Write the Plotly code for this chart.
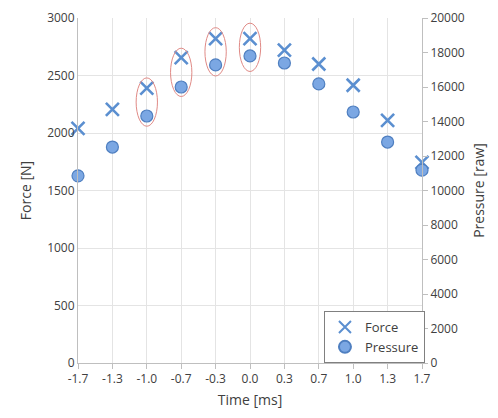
import plotly.graph_objects as go

time_labels = ["-1.7", "-1.3", "-1.0", "-0.7", "-0.3", "0.0", "0.3", "0.7", "1.0", "1.3", "1.7"]
force = [2040, 2205, 2390, 2655, 2820, 2820, 2720, 2600, 2415, 2110, 1745]
pressure = [10850, 12520, 14320, 16000, 17280, 17800, 17390, 16180, 14550, 12810, 11180]
highlighted = ["-1.0", "-0.7", "-0.3", "0.0"]

FONT = "Open Sans, Liberation Sans, sans-serif"
TXT = "#404040"
GRID = "#e4e4e4"
AX = "#bfbfbf"

fig = go.Figure()
fig.add_trace(go.Scatter(
    x=time_labels, y=force, mode="markers", name="Force", cliponaxis=False,
    marker=dict(symbol="x-thin", size=13, line=dict(width=2.6, color="#5b8fd0"), color="#5b8fd0"),
))
fig.add_trace(go.Scatter(
    x=time_labels, y=pressure, mode="markers", name="Pressure", yaxis="y2", cliponaxis=False,
    marker=dict(symbol="circle", size=12, color="#7ba7e3", line=dict(width=1.2, color="#4f7fc0")),
))

ratio = 3000 / 20000
half_h = 210
for lab in highlighted:
    i = time_labels.index(lab)
    mid = (force[i] + pressure[i] * ratio) / 2
    fig.add_shape(type="circle", xref="x", yref="y", x0=i - 0.31, x1=i + 0.31,
                  y0=mid - half_h, y1=mid + half_h,
                  line=dict(color="#e08a86", width=1), layer="above")

fig.update_layout(
    width=490, height=410,
    margin=dict(l=70, r=76, t=10, b=55, autoexpand=False),
    paper_bgcolor="white", plot_bgcolor="white",
    font=dict(family=FONT, size=12, color=TXT),
    showlegend=True,
    legend=dict(x=0.715, y=0.0, xanchor="left", yanchor="bottom",
                bordercolor="#808080", borderwidth=1, bgcolor="white",
                font=dict(size=13, color=TXT), tracegroupgap=2, itemsizing="constant",
                itemwidth=30),
    xaxis=dict(type="category", range=[0, 10], showgrid=True, gridcolor=GRID,
               showline=True, linecolor=AX, ticks="outside", tickcolor=AX, ticklen=5,
               title=dict(text="Time [ms]", standoff=8), zeroline=False, automargin=False,
               tickfont=dict(size=12, color=TXT)),
    yaxis=dict(range=[0, 3000], dtick=500, showgrid=True, gridcolor=GRID,
               showline=True, linecolor=AX, ticks="", zeroline=False, automargin=False,
               title=dict(text="Force [N]", standoff=12), tickfont=dict(size=12, color=TXT)),
    yaxis2=dict(range=[0, 20000], dtick=2000, overlaying="y", side="right", tickformat="d",
                showgrid=False, showline=True, linecolor=AX, ticks="outside", tickcolor=AX,
                ticklen=5, zeroline=False, automargin=False,
                title=dict(text="Pressure [raw]", standoff=10),
                tickfont=dict(size=12, color=TXT)),
)

fig.write_html("out.html")
